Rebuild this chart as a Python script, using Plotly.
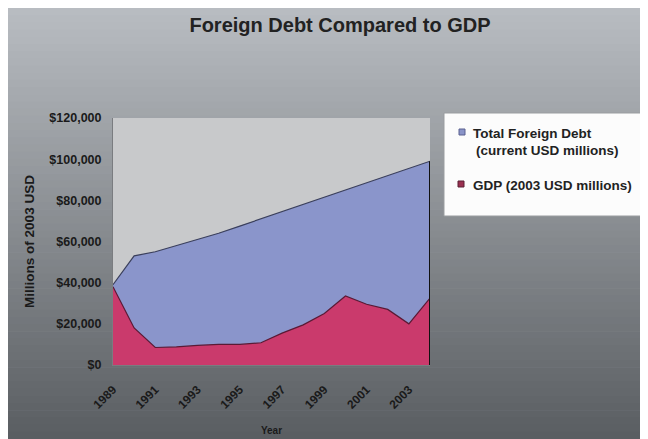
import plotly.graph_objects as go

years = list(range(1989, 2005))
debt = [39000, 53000, 55000, 58000, 61000, 64000, 67500, 71000, 74500,
        78000, 81500, 85000, 88500, 92000, 95500, 99000]
gdp = [38000, 18000, 8500, 8800, 9500, 10000, 10000, 10800, 15500,
       19500, 25000, 33500, 29500, 27000, 20000, 32500]
tick_years = [1989, 1991, 1993, 1995, 1997, 1999, 2001, 2003]
debt_label = ["Total Foreign Debt", "(current USD millions)"]
gdp_label = "GDP (2003 USD millions)"

W, H = 640, 431
L, R, T, B = 105, 422, 110, 357
FONT = "Liberation Sans"
DEBT_C = "#8a95cb"
GDP_C = "#ca3a6c"

def px(x):
    return (x - L) / (R - L)

def py(y):
    return (B - y) / (B - T)

fig = go.Figure()
fig.add_trace(go.Scatter(x=years, y=debt, mode="lines", fill="tozeroy",
                         name=" ".join(debt_label), showlegend=False,
                         line=dict(color="#3a3f5c", width=1.2),
                         fillcolor=DEBT_C))
fig.add_trace(go.Scatter(x=years, y=gdp, mode="lines", fill="tozeroy",
                         name=gdp_label, showlegend=False,
                         line=dict(color="#5a1a35", width=1.2),
                         fillcolor=GDP_C))
fig.add_trace(go.Scatter(x=[years[-1], years[-1]], y=[0, debt[-1]], mode="lines",
                         line=dict(color="#111111", width=2), showlegend=False,
                         hoverinfo="skip"))

shapes = []
n = 60
top_c = (184, 188, 193)
bot_c = (90, 94, 98)
for i in range(n):
    a = H * i / n
    b = H * (i + 1) / n + 0.6
    f = i / (n - 1)
    c = tuple(int(round(top_c[k] + (bot_c[k] - top_c[k]) * f)) for k in range(3))
    shapes.append(dict(type="rect", xref="paper", yref="paper", layer="below",
                       x0=px(-2), x1=px(W + 2), y0=py(b), y1=py(a),
                       line=dict(width=0), fillcolor="rgb(%d,%d,%d)" % c))
shapes.append(dict(type="rect", xref="paper", yref="paper", layer="below",
                   x0=0, x1=1, y0=0, y1=1, line=dict(width=0),
                   fillcolor="#c8c9cb"))
# legend box
shapes.append(dict(type="rect", xref="paper", yref="paper", layer="below",
                   x0=px(436), x1=px(W + 3), y0=py(208), y1=py(105),
                   line=dict(color="#9a9da0", width=1), fillcolor="#fcfcfc"))
# legend swatches
shapes.append(dict(type="rect", xref="paper", yref="paper",
                   x0=px(451), x1=px(457), y0=py(127), y1=py(121),
                   line=dict(color="#5a6090", width=1), fillcolor="#8a94c8"))
shapes.append(dict(type="rect", xref="paper", yref="paper",
                   x0=px(450), x1=px(456), y0=py(179), y1=py(173),
                   line=dict(color="#5a2035", width=1), fillcolor="#9a3050"))
fig.update_layout(shapes=shapes)

leg_font = dict(size=13.5, family=FONT, color="#222222", weight="bold")
annotations = [
    dict(text=debt_label[0], x=px(463), y=py(125), xref="paper", yref="paper",
         xanchor="left", yanchor="middle", showarrow=False, font=leg_font),
    dict(text=debt_label[1], x=px(466), y=py(142), xref="paper", yref="paper",
         xanchor="left", yanchor="middle", showarrow=False, font=leg_font),
    dict(text=gdp_label, x=px(463), y=py(177), xref="paper", yref="paper",
         xanchor="left", yanchor="middle", showarrow=False, font=leg_font),
]

fig.update_layout(
    width=W, height=H,
    margin=dict(l=L, r=W - R, t=T, b=H - B, pad=0, autoexpand=False),
    paper_bgcolor="rgb(184,188,193)",
    plot_bgcolor="rgba(0,0,0,0)",
    font=dict(family=FONT, color="#1a1a1a", weight="bold"),
    title=dict(text="Foreign Debt Compared to GDP", x=332 / W, xanchor="center",
               y=1 - 17 / H, yanchor="middle",
               font=dict(size=20, family=FONT, color="#222222", weight="bold")),
    showlegend=False,
    annotations=annotations,
    xaxis=dict(range=[years[0], years[-1]], tickvals=tick_years,
               ticktext=[str(t) for t in tick_years], tickangle=-45,
               tickfont=dict(size=12, family=FONT, weight="bold"),
               showgrid=False, zeroline=False, showline=True, automargin=False,
               linecolor="#7a7c80", linewidth=1, ticks="",
               ticklabelstandoff=12,
               title=dict(text="Year", font=dict(size=10, family=FONT, weight="bold"),
                          standoff=16)),
    yaxis=dict(range=[0, 120000], dtick=20000, tickformat="$,.0f",
               tickfont=dict(size=12.5, family=FONT, weight="bold"),
               showgrid=False, zeroline=False, showline=True, automargin=False,
               linecolor="#7a7c80", linewidth=1, ticks="",
               ticklabelstandoff=8,
               title=dict(text="Millions of 2003 USD",
                          font=dict(size=13.5, family=FONT, weight="bold"),
                          standoff=11)),
)

fig.write_html("out.html")
